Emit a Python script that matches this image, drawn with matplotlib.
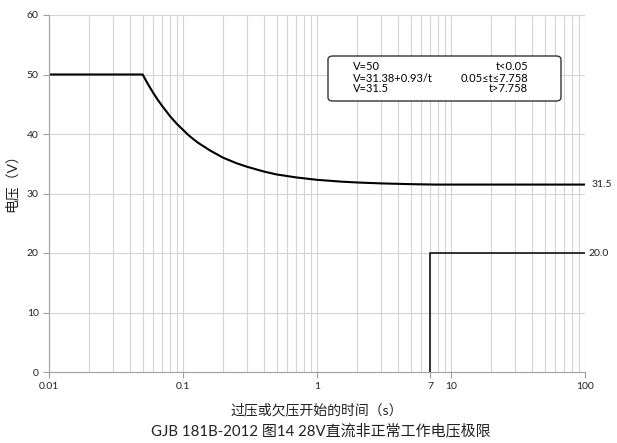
import matplotlib
matplotlib.use("Agg")
import matplotlib.pyplot as plt
from matplotlib.ticker import FixedLocator, NullFormatter, LogLocator
from matplotlib.patches import FancyBboxPatch

plt.rcParams["font.family"] = ["Lato", "Noto Sans CJK SC", "DejaVu Sans"]

# abnormal limit curve
t_limit = [0.01, 0.05, 0.055, 0.06, 0.065, 0.07, 0.08, 0.09, 0.1, 0.11, 0.12, 0.13,
           0.16, 0.2, 0.25, 0.3, 0.4, 0.5, 0.7, 1, 1.5, 2, 3, 5, 7.758, 100]
v_limit = [50, 50, 48.3, 46.9, 45.7, 44.7, 43.0, 41.7, 40.7, 39.8, 39.1, 38.5,
           37.2, 36.0, 35.1, 34.5, 33.7, 33.2, 32.7, 32.3, 32.0, 31.85, 31.7, 31.57, 31.5, 31.5]

# under-voltage limit
t_under = [7, 7, 100]
v_under = [0, 20, 20]

x_ticks = [0.01, 0.1, 1, 7, 10, 100]
x_tick_labels = ["0.01", "0.1", "1", "7", "10", "100"]
y_ticks = [0, 10, 20, 30, 40, 50, 60]

box_left = ["V=50", "V=31.38+0.93/t", "V=31.5"]
box_right = ["t<0.05", "0.05≤t≤7.758", "t>7.758"]

fig = plt.figure(figsize=(6.17, 4.43), dpi=100)
ax = fig.add_axes([49 / 617, 1 - 372 / 443, 536 / 617, 357 / 443])

ax.set_xscale("log")
ax.set_xlim(0.01, 100)
ax.set_ylim(0, 60)

ax.xaxis.set_minor_locator(LogLocator(base=10, subs=range(2, 10)))
ax.xaxis.set_minor_formatter(NullFormatter())
ax.xaxis.set_major_locator(FixedLocator(x_ticks))
ax.set_xticklabels(x_tick_labels)
ax.set_yticks(y_ticks)

ax.grid(True, which="both", axis="x", color="#d4d4d4", lw=0.8)
ax.grid(True, which="major", axis="y", color="#d4d4d4", lw=0.8)
ax.set_axisbelow(True)

for side in ("top", "right"):
    ax.spines[side].set_visible(False)
for side in ("left", "bottom"):
    ax.spines[side].set_color("#a0a0a0")
ax.tick_params(axis="both", which="major", labelsize=7.5, colors="#a0a0a0",
               labelcolor="#222222", length=4)
ax.tick_params(axis="x", which="minor", length=0)

ax.plot(t_limit, v_limit, color="black", lw=1.5, solid_joinstyle="round")
ax.plot(t_under, v_under, color="black", lw=1.1)

ax.text(1.012, 31.5, "31.5", transform=ax.get_yaxis_transform(), fontsize=7.5,
        va="center", ha="left", color="#222222")
ax.text(1.007, 20, "20.0", transform=ax.get_yaxis_transform(), fontsize=7.5,
        va="center", ha="left", color="#222222")

# formula box
box = FancyBboxPatch((328 / 617, 1 - 101 / 443), 233 / 617, 45 / 443,
                     boxstyle="round,pad=0,rounding_size=0.008",
                     transform=fig.transFigure, facecolor="white",
                     edgecolor="#333333", lw=1.0, zorder=5)
fig.patches.append(box)
for i, (left, right) in enumerate(zip(box_left, box_right)):
    y = 1 - (67 + i * 11) / 443
    fig.text(353 / 617, y, left, fontsize=8, va="center", ha="left", zorder=6)
    fig.text(528 / 617, y, right, fontsize=8, va="center", ha="right", zorder=6)

ax.set_xlabel("过压或欠压开始的时间（s）", fontsize=10, labelpad=8, color="#222222")
ax.set_ylabel("电压（V）", fontsize=10, color="#222222")
ax.yaxis.set_label_coords(-31 / 536, (372 - 180) / 357)
fig.text(321 / 617, 1 - 431 / 443, "GJB 181B-2012 图14 28V直流非正常工作电压极限",
         fontsize=10.8, ha="center", va="center", color="#222222")

fig.savefig("out.png", dpi=100)
